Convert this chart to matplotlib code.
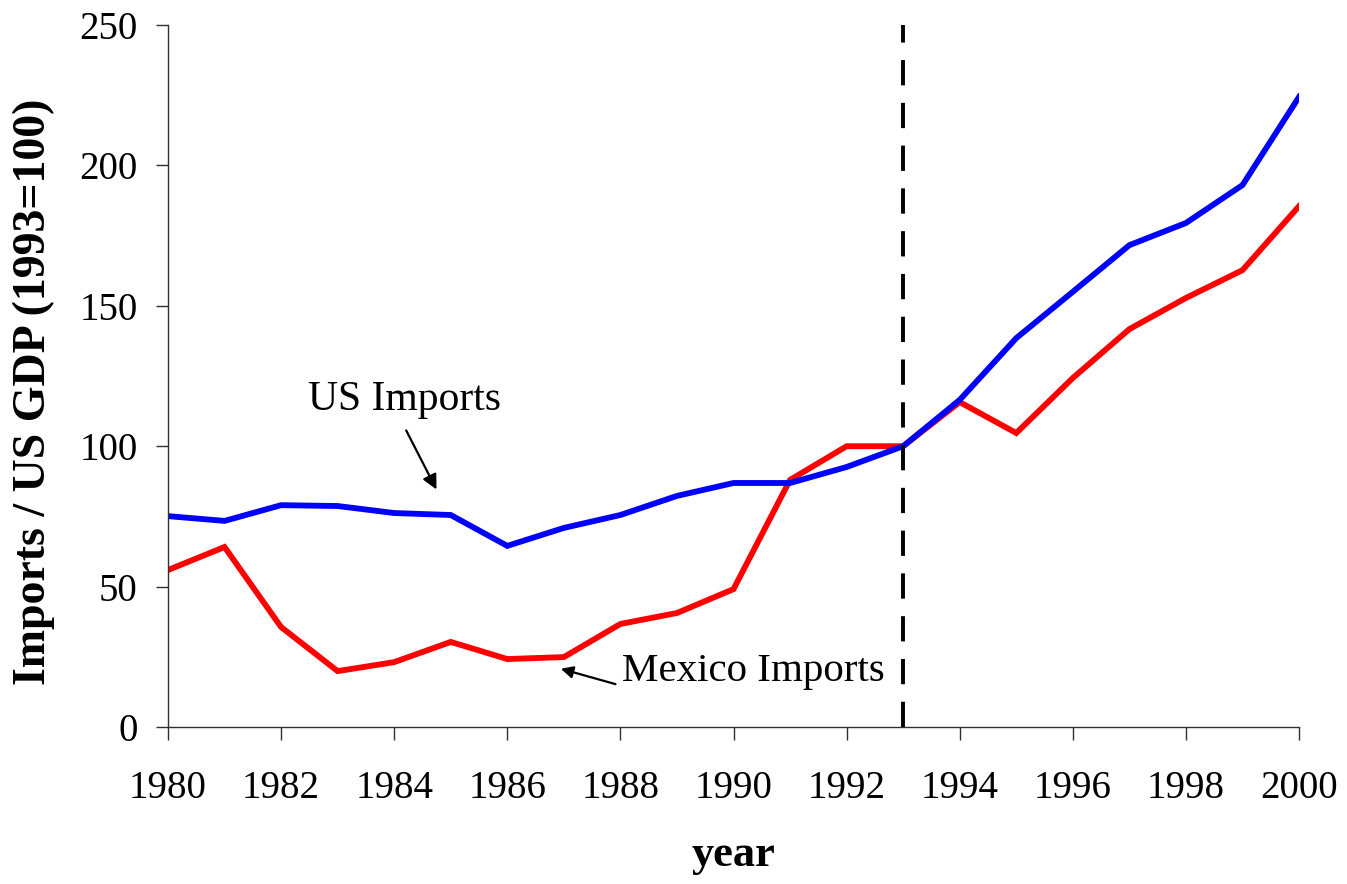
import matplotlib
matplotlib.use('Agg')
import matplotlib.pyplot as plt
import numpy as np

years = list(range(1980, 2001))
us_imports = [75.1, 73.4, 79.0, 78.7, 76.2, 75.5, 64.5, 70.9, 75.5, 82.3, 86.9,
              86.9, 92.6, 100.0, 116.5, 138.5, 155.0, 171.6, 179.5, 193.0, 224.4]
mexico_imports = [55.9, 64.1, 35.6, 19.9, 23.1, 30.3, 24.2, 24.9, 36.7, 40.6, 49.1,
                  88.0, 100.0, 100.0, 115.7, 104.7, 124.3, 141.7, 152.8, 162.7, 185.5]
nafta_year = 1993

plt.rcParams['font.family'] = ['Liberation Serif', 'DejaVu Serif']

fig = plt.figure(figsize=(13.47, 8.84), dpi=100)
ax = fig.add_axes([0.1247, 0.1776, 0.8397, 0.7941])

ax.plot(years, mexico_imports, color='#ff0000', lw=4.2, solid_joinstyle='miter')
ax.plot(years, us_imports, color='#0000ff', lw=4.2, solid_joinstyle='miter')
ax.axvline(nafta_year, color='black', lw=2.8, linestyle=(0, (6.5, 4.5)))

ax.set_xlim(1980, 2000)
ax.set_ylim(0, 250)
ax.set_xticks(range(1980, 2001, 2))
ax.set_yticks(range(0, 251, 50))
ax.tick_params(axis='both', labelsize=28, direction='out', width=1.0, color='#303030')
ax.tick_params(axis='x', length=9, pad=22)
ax.tick_params(axis='y', length=9, pad=13)
for side in ['top', 'right']:
    ax.spines[side].set_visible(False)
for side in ['left', 'bottom']:
    ax.spines[side].set_color('#303030')
    ax.spines[side].set_linewidth(1.0)

ax.set_xlabel('year', fontsize=32, fontweight='bold', labelpad=20)
ax.set_ylabel('Imports / US GDP (1993=100)', fontsize=33, fontweight='bold')
ax.yaxis.set_label_coords(-0.1, 0.477)

ax.annotate('', xy=(1984.77, 83.7), xytext=(1984.19, 106.5),
            arrowprops=dict(arrowstyle='-|>', color='black', lw=1.6, mutation_scale=22))
ax.text(1984.19, 116.4, 'US Imports', fontsize=30, ha='center', va='center')

ax.annotate('', xy=(1986.9, 21.0), xytext=(1987.96, 15.0),
            arrowprops=dict(arrowstyle='-|>', color='black', lw=1.6, mutation_scale=18))
ax.text(1988.03, 19.6, 'Mexico Imports', fontsize=29.5, ha='left', va='center')

fig.savefig('out.png', dpi=100)
